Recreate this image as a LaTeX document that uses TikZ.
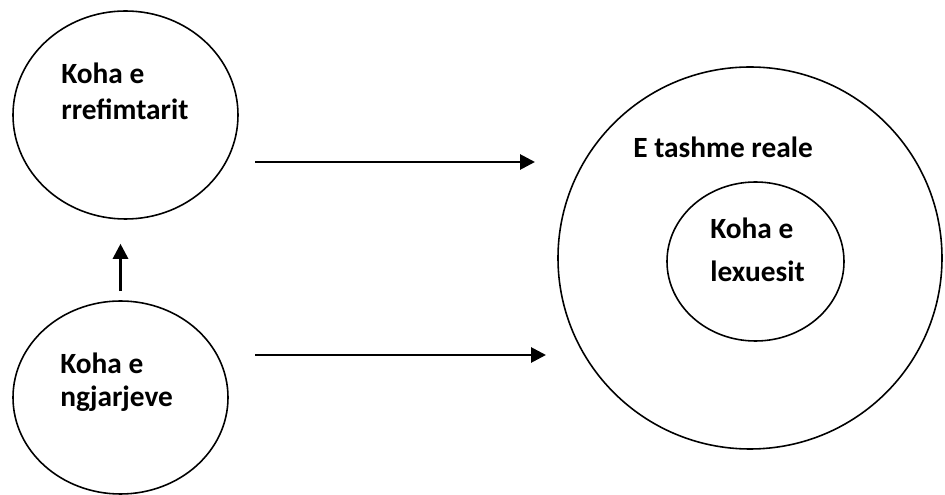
\documentclass[tikz,border=0pt]{standalone}
\usepackage{fontspec}
\setmainfont{Carlito}
\usetikzlibrary{arrows.meta,positioning,shapes.geometric}

\tikzset{
  koha/.style={draw, ellipse, line width=0.9pt, inner sep=0pt},
  lbl/.style={anchor=base west, align=left, inner sep=0pt, font=\fontsize{16.7}{21}\selectfont\bfseries},
  arr/.style={line width=1.6pt, -{Triangle[length=0.3cm,width=0.3cm]}}
}

\begin{document}
\begin{tikzpicture}
  \useasboundingbox (0,0) rectangle (18.9,9.9);
  % left circles
  \node[koha, minimum width=4.5cm, minimum height=4.16cm] (rrefim) at (2.51,7.60) {};
  \node[koha, minimum width=4.3cm, minimum height=3.86cm] (ngjar) at (2.41,1.95) {};
  \node[lbl] (trrefim) at (1.22,7.50) {Koha e\\rrefimtarit};
  \node[lbl] (tngjar) at (1.20,1.76) {Koha e\\[-1.7pt]ngjarjeve};
  % right circles
  \node[koha, minimum width=7.68cm, minimum height=7.64cm] (reale) at (15.0,4.74) {};
  \node[koha, minimum width=3.54cm, minimum height=3.18cm] (lexues) at (15.11,4.67) {};
  \node[lbl] (treale) at (12.66,6.74) {E tashme reale};
  \node[lbl] (tlexues) at (14.20,4.26) {Koha e\\[4pt]lexuesit};
  % arrows
  \coordinate (a1) at (5.10,6.66);
  \coordinate (b1) at (10.70,6.66);
  \coordinate (a2) at (5.10,2.80);
  \coordinate (b2) at (10.92,2.80);
  \draw[arr, shorten <=0.18cm, shorten >=0.48cm] (ngjar.north) -- (ngjar.north |- rrefim.south);
  \draw[arr] (a1) -- (b1);
  \draw[arr] (a2) -- (b2);
\end{tikzpicture}
\end{document}
